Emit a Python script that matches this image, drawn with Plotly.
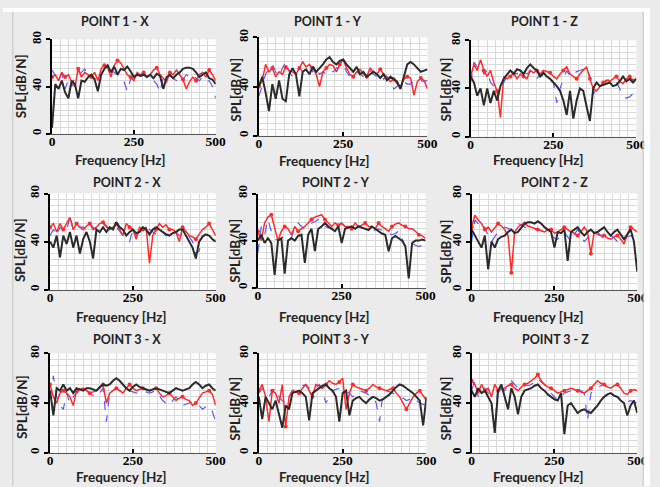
import plotly.graph_objects as go

FREQ = list(range(0, 501, 10))

TITLES = ["POINT 1 - X", "POINT 1 - Y", "POINT 1 - Z",
          "POINT 2 - X", "POINT 2 - Y", "POINT 2 - Z",
          "POINT 3 - X", "POINT 3 - Y", "POINT 3 - Z"]
X_TICKS = [0, 250, 500]
Y_TICKS = [0, 40, 80]
X_LABEL = "Frequency [Hz]"
Y_LABEL = "SPL[dB/N]"

# ---------------- POINT 1 ----------------
P1X_BLACK = [5, 42, 38, 45, 35, 30, 45, 42, 30, 45, 44, 48, 50, 46, 36, 50, 55, 58, 52, 57, 50, 55, 54, 57, 53, 48,
             50, 49, 50, 48, 50, 47, 51, 49, 38, 48, 50, 47, 50, 52, 55, 56, 56, 55, 52, 48, 50, 52, 47, 46, 42]
P1X_RED = [48, 50, 45, 52, 48, 50, 44, 40, 55, 48, 52, 50, 48, 52, 45, 55, 58, 56, 48, 58, 62, 60, 55, 50, 48, 45,
           52, 50, 52, 48, 50, 54, 56, 50, 47, 44, 52, 50, 54, 50, 46, 38, 44, 48, 45, 50, 52, 48, 54, 50, 45]
P1X_BLUE = [54, 50, 45, 52, 38, 46, 40, 48, 50, 52, 55, 48, 50, 46, 52, 50, 55, 58, 54, 52, 50, 48, 44, 36, 46, 48,
            46, 48, 50, 48, 50, 45, 42, 35, 48, 50, 49, 47, 45, 42, 46, 50, 48, 50, 47, 45, 48, 44, 45, 40, 30]

P1Y_BLACK = [40, 48, 35, 20, 42, 30, 45, 30, 28, 50, 55, 50, 32, 52, 54, 50, 56, 52, 55, 58, 62, 64, 60, 58, 61, 62,
             58, 55, 52, 56, 50, 52, 48, 50, 52, 50, 47, 50, 45, 48, 46, 44, 38, 48, 58, 60, 58, 55, 52, 53, 54]
P1Y_RED = [40, 45, 58, 52, 55, 48, 52, 50, 56, 53, 52, 50, 55, 60, 56, 58, 55, 50, 40, 52, 55, 58, 57, 52, 58, 62,
           55, 50, 48, 52, 54, 50, 48, 55, 52, 50, 54, 50, 48, 44, 46, 42, 40, 46, 48, 47, 33, 44, 47, 45, 38]
P1Y_BLUE = [32, 42, 50, 55, 58, 52, 48, 55, 60, 52, 48, 50, 55, 52, 56, 58, 52, 55, 50, 52, 50, 53, 52, 55, 56, 58,
            52, 48, 50, 52, 50, 48, 52, 53, 50, 48, 50, 46, 48, 45, 38, 40, 45, 44, 42, 42, 44, 46, 45, 44, 45]

P1Z_BLACK = [50, 45, 34, 40, 26, 40, 28, 38, 30, 42, 48, 52, 55, 52, 56, 55, 52, 57, 60, 57, 55, 50, 53, 50, 48, 45,
             42, 38, 30, 18, 38, 15, 30, 40, 38, 25, 13, 40, 45, 42, 43, 44, 45, 42, 43, 46, 50, 46, 48, 45, 48]
P1Z_RED = [50, 60, 55, 64, 55, 50, 55, 45, 38, 16, 50, 48, 50, 53, 48, 52, 50, 48, 55, 53, 55, 52, 55, 54, 53, 50,
           48, 52, 55, 58, 52, 50, 48, 52, 55, 58, 48, 40, 38, 42, 45, 47, 46, 48, 50, 46, 44, 48, 50, 47, 48]
P1Z_BLUE = [45, 62, 58, 60, 52, 55, 45, 42, 40, 43, 45, 50, 55, 53, 52, 55, 54, 52, 55, 50, 48, 52, 50, 48, 47, 45,
            28, 40, 48, 55, 50, 52, 54, 55, 56, 58, 50, 35, 40, 42, 44, 46, 48, 46, 45, 40, 33, 32, 33, 36, 38]

# ---------------- POINT 2 ----------------
P2X_BLACK = [40, 35, 45, 27, 45, 38, 48, 35, 45, 30, 42, 48, 40, 26, 50, 48, 52, 48, 52, 50, 56, 52, 50, 45, 48, 50,
             47, 48, 52, 50, 46, 50, 52, 50, 48, 46, 45, 47, 48, 50, 50, 45, 40, 35, 26, 40, 44, 46, 45, 42, 40]
P2X_RED = [52, 55, 48, 55, 50, 55, 60, 50, 55, 52, 50, 53, 55, 50, 52, 55, 56, 53, 50, 52, 55, 50, 45, 55, 52, 50,
           42, 52, 50, 52, 22, 45, 50, 55, 52, 54, 50, 50, 48, 40, 52, 48, 45, 44, 42, 46, 50, 52, 55, 50, 45]
P2X_BLUE = [45, 50, 45, 52, 50, 48, 62, 50, 55, 52, 52, 50, 55, 52, 50, 54, 55, 52, 50, 53, 52, 48, 45, 42, 40, 50,
            45, 48, 50, 52, 50, 48, 46, 50, 48, 45, 47, 50, 48, 45, 46, 48, 44, 40, 30, 32, 45, 46, 44, 43, 42]

P2Y_BLACK = [40, 45, 38, 42, 38, 11, 40, 42, 12, 40, 42, 40, 44, 45, 21, 45, 50, 31, 50, 52, 55, 52, 50, 48, 52, 38,
             50, 51, 52, 50, 52, 51, 50, 49, 52, 50, 48, 46, 45, 31, 42, 44, 42, 40, 35, 8, 38, 40, 40, 41, 40]
P2Y_RED = [48, 40, 55, 60, 62, 50, 40, 48, 52, 50, 45, 52, 48, 50, 52, 55, 58, 60, 61, 62, 58, 55, 52, 55, 53, 55,
           52, 52, 50, 55, 52, 53, 55, 52, 52, 50, 55, 52, 50, 48, 52, 54, 55, 53, 52, 50, 50, 48, 45, 44, 42]
P2Y_BLUE = [30, 52, 45, 58, 48, 42, 40, 42, 45, 44, 42, 52, 55, 52, 50, 52, 55, 56, 58, 55, 52, 51, 50, 52, 55, 54,
            52, 51, 50, 51, 52, 51, 50, 49, 48, 49, 50, 49, 48, 46, 45, 46, 48, 42, 35, 38, 38, 36, 35, 36, 36]

P2Z_BLACK = [50, 45, 40, 35, 45, 17, 40, 35, 42, 44, 45, 48, 50, 47, 48, 52, 55, 56, 56, 55, 57, 55, 52, 50, 48, 35,
             48, 47, 50, 24, 48, 50, 52, 48, 45, 48, 50, 47, 48, 50, 52, 48, 45, 48, 50, 46, 42, 46, 50, 40, 15]
P2Z_RED = [52, 62, 58, 55, 50, 52, 48, 52, 55, 53, 50, 45, 14, 48, 52, 54, 55, 53, 52, 51, 50, 49, 48, 50, 50, 47,
           48, 50, 52, 50, 48, 47, 45, 48, 52, 48, 30, 48, 46, 45, 45, 43, 42, 44, 45, 42, 38, 46, 52, 50, 48]
P2Z_BLUE = [40, 58, 55, 50, 52, 45, 40, 44, 48, 50, 52, 51, 50, 53, 55, 54, 52, 51, 50, 50, 50, 49, 48, 46, 45, 43,
            42, 45, 48, 44, 40, 46, 50, 45, 40, 43, 45, 47, 48, 45, 42, 44, 45, 43, 40, 41, 42, 44, 45, 42, 40]

# ---------------- POINT 3 ----------------
P3X_BLACK = [50, 30, 52, 50, 55, 50, 52, 48, 52, 51, 50, 52, 52, 51, 50, 53, 55, 54, 55, 58, 60, 58, 55, 52, 50, 53,
             55, 53, 52, 51, 50, 51, 52, 51, 50, 49, 48, 50, 52, 51, 50, 51, 52, 55, 57, 55, 52, 54, 55, 52, 50]
P3X_RED = [55, 45, 40, 48, 50, 48, 45, 38, 50, 51, 52, 50, 48, 49, 50, 52, 55, 40, 48, 50, 52, 50, 48, 52, 55, 52,
           50, 51, 52, 51, 50, 51, 52, 48, 45, 46, 48, 45, 42, 44, 45, 43, 42, 38, 40, 44, 48, 49, 50, 47, 38]
P3X_BLUE = [45, 62, 45, 38, 35, 48, 40, 45, 48, 50, 52, 50, 48, 46, 45, 48, 52, 25, 48, 50, 52, 50, 48, 49, 50, 49,
            48, 49, 50, 49, 48, 49, 50, 46, 42, 40, 38, 42, 45, 42, 38, 39, 40, 41, 40, 38, 35, 37, 38, 33, 25]

P3Y_BLACK = [45, 27, 45, 40, 35, 42, 30, 20, 38, 35, 48, 49, 50, 48, 45, 26, 48, 50, 52, 54, 55, 52, 50, 45, 25, 48,
             50, 30, 42, 44, 45, 42, 40, 43, 45, 44, 42, 43, 45, 47, 50, 53, 55, 54, 52, 50, 48, 45, 42, 22, 45]
P3Y_RED = [50, 55, 45, 25, 50, 48, 40, 55, 21, 45, 50, 49, 48, 52, 55, 50, 45, 55, 54, 52, 55, 58, 56, 55, 57, 60,
           35, 48, 55, 53, 52, 51, 50, 52, 55, 53, 52, 51, 50, 51, 52, 48, 45, 40, 35, 40, 45, 48, 50, 46, 42]
P3Y_BLUE = [48, 52, 48, 45, 50, 52, 45, 42, 40, 45, 50, 51, 52, 54, 55, 52, 50, 52, 55, 50, 40, 45, 50, 51, 52, 51,
            50, 48, 45, 48, 50, 49, 48, 46, 45, 40, 25, 48, 50, 49, 48, 46, 45, 44, 42, 43, 45, 42, 40, 39, 38]

P3Z_BLACK = [50, 45, 52, 48, 50, 45, 40, 16, 50, 55, 45, 35, 52, 45, 31, 45, 50, 51, 52, 54, 55, 52, 50, 47, 45, 43,
             42, 48, 15, 38, 40, 36, 32, 34, 35, 33, 32, 35, 38, 42, 45, 47, 48, 46, 45, 42, 40, 30, 38, 42, 32]
P3Z_RED = [58, 55, 48, 55, 50, 52, 45, 55, 50, 51, 52, 54, 55, 52, 50, 53, 55, 56, 58, 60, 63, 58, 55, 53, 52, 50,
           48, 49, 50, 51, 52, 51, 50, 49, 48, 50, 52, 55, 58, 56, 55, 53, 52, 54, 55, 52, 48, 47, 50, 51, 50]
P3Z_BLUE = [50, 58, 45, 50, 52, 48, 40, 20, 55, 52, 50, 54, 58, 55, 52, 54, 55, 54, 55, 57, 60, 57, 55, 50, 48, 45,
            42, 45, 48, 49, 50, 51, 52, 50, 48, 26, 48, 50, 52, 54, 55, 52, 48, 46, 45, 43, 42, 41, 42, 41, 40]

BLACK_SERIES = [P1X_BLACK, P1Y_BLACK, P1Z_BLACK, P2X_BLACK, P2Y_BLACK, P2Z_BLACK, P3X_BLACK, P3Y_BLACK, P3Z_BLACK]
RED_SERIES = [P1X_RED, P1Y_RED, P1Z_RED, P2X_RED, P2Y_RED, P2Z_RED, P3X_RED, P3Y_RED, P3Z_RED]
BLUE_SERIES = [P1X_BLUE, P1Y_BLUE, P1Z_BLUE, P2X_BLUE, P2Y_BLUE, P2Z_BLUE, P3X_BLUE, P3Y_BLUE, P3Z_BLUE]

W, H = 660, 487
# plot-area boxes in pixels: (left, right, top, bottom)
BOXES = [(50, 217, 32, 128), (261, 433, 30, 130), (477, 646, 33, 131),
         (48, 217, 189, 287), (260, 431, 189, 285), (478, 647, 189, 287),
         (48, 217, 352, 453), (261, 432, 352, 453), (478, 647, 352, 453)]
TITLE_POS = [(114, 14), (332, 14), (552, 14),
             (126, 178), (340, 178), (563, 178),
             (127, 338), (340, 338), (564, 338)]
XLAB_POS = [(119, 155), (327, 156), (546, 155),
            (120, 478), (327, 478), (546, 478)]
XLAB_POS = [(119, 155), (327, 156), (546, 155),
            (120, 315), (327, 315), (546, 315),
            (120, 478), (327, 478), (546, 478)]
YLAB_POS = [(18, 80), (238, 83), (452, 83),
            (18, 247), (237, 247), (452, 248),
            (20, 407), (237, 408), (452, 408)]

SANS = "Lato"
SERIF = "Liberation Serif"
GRID = "#d9d9d9"

fig = go.Figure()
layout = dict(width=W, height=H, margin=dict(l=0, r=0, t=0, b=0),
              paper_bgcolor="#ebebeb", plot_bgcolor="white", showlegend=False)
annotations = []

for i in range(9):
    n = "" if i == 0 else str(i + 1)
    xa, ya = "x" + n, "y" + n
    fig.add_trace(go.Scatter(x=FREQ, y=BLUE_SERIES[i], mode="lines", xaxis=xa, yaxis=ya,
                             line=dict(color="#5a5aff", width=1.2, dash="dash")))
    fig.add_trace(go.Scatter(x=FREQ, y=RED_SERIES[i], mode="lines", xaxis=xa, yaxis=ya,
                             line=dict(color="#ff2a2a", width=1.5)))
    fig.add_trace(go.Scatter(x=FREQ[::4], y=RED_SERIES[i][::4], mode="markers", xaxis=xa, yaxis=ya,
                             marker=dict(color="#ff2a2a", size=4)))
    fig.add_trace(go.Scatter(x=FREQ, y=BLACK_SERIES[i], mode="lines", xaxis=xa, yaxis=ya,
                             line=dict(color="#2b2b2b", width=2)))
    l, r, t, b = BOXES[i]
    layout["xaxis" + n] = dict(
        domain=[l / W, r / W], anchor=ya, range=[0, 500], tickvals=X_TICKS,
        ticktext=[str(v) for v in X_TICKS],
        showgrid=True, gridcolor=GRID, gridwidth=1,
        minor=dict(dtick=25, tick0=0, showgrid=True, gridcolor=GRID, gridwidth=1),
        showline=True, linecolor="#555555", linewidth=1,
        ticks="inside", ticklen=4, tickcolor="black", tickwidth=2,
        ticklabelstandoff=-5,
        tickfont=dict(family=SERIF, size=13.5, color="black", weight="bold"),
        zeroline=False, fixedrange=True)
    layout["yaxis" + n] = dict(
        domain=[1 - b / H, 1 - t / H], anchor=xa, range=[0, 80], tickvals=Y_TICKS,
        ticktext=[str(v) for v in Y_TICKS], tickangle=-90,
        showgrid=True, gridcolor=GRID, gridwidth=1,
        minor=dict(dtick=5, tick0=0, showgrid=True, gridcolor=GRID, gridwidth=1),
        showline=True, linecolor="black", linewidth=1.5,
        ticks="outside", ticklen=4, tickcolor="black", tickwidth=2,
        tickfont=dict(family=SERIF, size=13, color="black", weight="bold"),
        zeroline=False, fixedrange=True)
    tx, ty = TITLE_POS[i]
    annotations.append(dict(text=TITLES[i], x=tx / W, y=1 - ty / H, xref="paper", yref="paper",
                            showarrow=False, xanchor="center", yanchor="middle",
                            font=dict(family=SANS, size=12.5, color="#222222", weight="bold")))
    fx, fy = XLAB_POS[i]
    annotations.append(dict(text=X_LABEL, x=fx / W, y=1 - fy / H, xref="paper", yref="paper",
                            showarrow=False, xanchor="center", yanchor="middle",
                            font=dict(family=SANS, size=13.5, color="#222222", weight="bold")))
    sx, sy = YLAB_POS[i]
    annotations.append(dict(text=Y_LABEL, x=sx / W, y=1 - sy / H, xref="paper", yref="paper",
                            showarrow=False, xanchor="center", yanchor="middle", textangle=-90,
                            font=dict(family=SANS, size=13.5, color="#222222", weight="bold")))

layout["annotations"] = annotations
layout["shapes"] = [
    dict(type="rect", xref="paper", yref="paper", x0=0, x1=1, y0=1 - 4 / H, y1=1,
         fillcolor="white", line=dict(width=0), layer="above"),
    dict(type="line", xref="paper", yref="paper", x0=10 / W, x1=10 / W, y0=0, y1=1 - 4 / H,
         line=dict(color="#c4c4c4", width=1), layer="above"),
    dict(type="line", xref="paper", yref="paper", x0=653 / W, x1=653 / W, y0=0, y1=1 - 4 / H,
         line=dict(color="#c4c4c4", width=1), layer="above"),
    dict(type="rect", xref="paper", yref="paper", x0=654 / W, x1=1, y0=0, y1=1,
         fillcolor="white", line=dict(width=0), layer="above"),
]
fig.update_layout(**layout)
fig.write_html("out.html", post_script="document.body.style.margin='0';",
               config={"displayModeBar": False})
